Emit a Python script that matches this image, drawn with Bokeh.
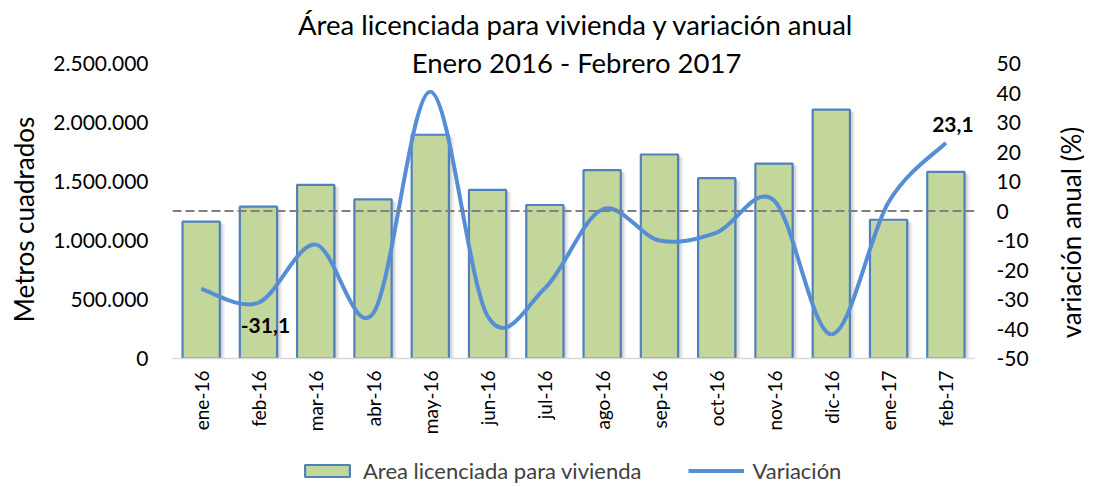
import math
from bokeh.plotting import figure
from bokeh.layouts import column, row
from bokeh.models import (Range1d, LinearAxis, FixedTicker, Span, Label, Legend,
                          LegendItem, ColumnDataSource)
from bokeh.embed import file_html
from bokeh.resources import INLINE
from bokeh.core.properties import value
from bokeh.transform import dodge

# ---------------- data ----------------
months = ["ene-16", "feb-16", "mar-16", "abr-16", "may-16", "jun-16", "jul-16",
          "ago-16", "sep-16", "oct-16", "nov-16", "dic-16", "ene-17", "feb-17"]
area_m2 = [1160000, 1287000, 1471000, 1349000, 1896000, 1429000, 1301000,
           1596000, 1729000, 1528000, 1652000, 2109000, 1176000, 1582000]
variacion = [-26.4, -31.1, -11.4, -34.8, 40.4, -35.6, -26.2,
             0.5, -10.0, -7.3, 3.6, -41.8, 3.0, 23.1]
left_ticks = [0, 500000, 1000000, 1500000, 2000000, 2500000]
left_tick_labels = ["0", "500.000", "1.000.000", "1.500.000", "2.000.000", "2.500.000"]
right_ticks = [-50, -40, -30, -20, -10, 0, 10, 20, 30, 40, 50]
right_tick_labels = ["-50", "-40", "-30", "-20", "-10", "0", "10", "20", "30", "40", "50"]
labeled_months = ["feb-16", "feb-17"]
title_lines = ["Área licenciada para vivienda y variación anual",
               "Enero 2016 - Febrero 2017"]
series_names = ["Area licenciada para vivienda", "Variación"]
axis_titles = ["Metros cuadrados", "variación anual (%)"]

# ---------------- style / layout ----------------
FONT = "Lato"
BAR_FILL = "#c3d69b"
BAR_LINE = "#4f81bd"
LINE_COL = "#558ed5"
TXT = "#000000"
BAR_W = 0.65
FRAME_PX = 358      # frame height (title lives in the top part of the frame)
DATA_PX = 295       # pixels spanned by the axis ranges
LEFT_W, RIGHT_W = 36, 28
MAIN_W = 1020
ROW_H = 439
LEG_H = 45
BOT = ROW_H - FRAME_PX
LEFT_B, RIGHT_B = 136, 82
ext = FRAME_PX / DATA_PX

xs = list(range(len(months)))

p = figure(width=MAIN_W, height=ROW_H,
           min_border_left=LEFT_B, min_border_right=RIGHT_B, min_border_top=0,
           min_border_bottom=BOT, output_backend="svg", toolbar_location=None,
           x_range=Range1d(-0.5, len(months) - 0.5),
           y_range=Range1d(0, left_ticks[-1] * ext))
p.extra_y_ranges = {"right": Range1d(right_ticks[0],
                                     right_ticks[0] + (right_ticks[-1] - right_ticks[0]) * ext)}
p.outline_line_color = None
p.xgrid.visible = False
p.ygrid.visible = False
p.background_fill_color = "white"
p.border_fill_color = "white"

# bars with a soft shadow
src = ColumnDataSource(dict(x=xs, month=months, area=area_m2))
for off, a in [(0.03, 0.10), (0.06, 0.08), (0.09, 0.06)]:
    p.vbar(x=dodge("x", off), top=dodge("area", -off * 250000), bottom=0,
           width=BAR_W, source=src, fill_color="#000000", fill_alpha=a,
           line_color=None)
p.vbar(x="x", top="area", bottom=0, width=BAR_W, source=src,
       fill_color=BAR_FILL, line_color=BAR_LINE, line_width=2.2)

# zero reference line
p.add_layout(Span(location=0, dimension="width", y_range_name="right",
                  line_color="#808080", line_dash="9 4", line_width=2))

# smoothed variation line (Bezier segments through the data points)
n = len(xs)
bz = dict(x0=[], y0=[], x1=[], y1=[], cx0=[], cy0=[], cx1=[], cy1=[])
for i in range(n - 1):
    i0 = max(i - 1, 0)
    i3 = min(i + 2, n - 1)
    bz["x0"].append(xs[i]); bz["y0"].append(variacion[i])
    bz["x1"].append(xs[i + 1]); bz["y1"].append(variacion[i + 1])
    bz["cx0"].append(xs[i] + (xs[i + 1] - xs[i0]) / 6)
    bz["cy0"].append(variacion[i] + (variacion[i + 1] - variacion[i0]) / 6)
    bz["cx1"].append(xs[i + 1] - (xs[i3] - xs[i]) / 6)
    bz["cy1"].append(variacion[i + 1] - (variacion[i3] - variacion[i]) / 6)
bz_src = ColumnDataSource(bz)
p.bezier(x0="x0", y0="y0", x1="x1", y1="y1", cx0="cx0", cy0="cy0",
         cx1="cx1", cy1="cy1", source=bz_src,
         y_range_name="right", line_color=LINE_COL, line_width=4)

# data labels
idx = [months.index(m) for m in labeled_months]
lab = ColumnDataSource(dict(
    x=[xs[i] for i in idx], y=[variacion[i] for i in idx],
    text=[f"{variacion[i]:.1f}".replace(".", ",") for i in idx],
    dy=[23, -18]))
p.text(x="x", y="y", text="text", source=lab, y_range_name="right",
       x_offset=7, y_offset="dy", text_align="center", text_baseline="middle",
       text_font=value(FONT), text_font_style="bold", text_font_size="21px",
       text_color=TXT)

# axes
xa = p.xaxis[0]
xa.ticker = FixedTicker(ticks=xs)
xa.major_label_overrides = {i: m for i, m in zip(xs, months)}
xa.major_label_orientation = math.pi / 2
xa.major_tick_line_color = None
xa.major_tick_out = 0
xa.major_tick_in = 0
xa.minor_tick_line_color = None
xa.axis_line_color = "#d9d9d9"
xa.axis_line_width = 1.5
xa.major_label_standoff = 12
xa.major_label_text_font = FONT
xa.major_label_text_font_size = "19px"
xa.major_label_text_color = TXT

ya = p.yaxis[0]
ya.ticker = FixedTicker(ticks=left_ticks)
ya.major_label_overrides = {t: l for t, l in zip(left_ticks, left_tick_labels)}
ya.axis_line_color = None
ya.major_tick_line_color = None
ya.major_tick_out = 0
ya.major_tick_in = 0
ya.minor_tick_line_color = None
ya.major_label_standoff = 24
ya.major_label_text_font = FONT
ya.major_label_text_font_size = "21px"
ya.major_label_text_color = TXT

ra = LinearAxis(y_range_name="right", ticker=FixedTicker(ticks=right_ticks))
ra.major_label_overrides = {t: l for t, l in zip(right_ticks, right_tick_labels)}
ra.axis_line_color = None
ra.major_tick_line_color = None
ra.major_tick_out = 0
ra.major_tick_in = 0
ra.minor_tick_line_color = None
ra.major_label_standoff = 22
ra.major_label_text_font = FONT
ra.major_label_text_font_size = "21px"
ra.major_label_text_color = TXT
p.add_layout(ra, "right")

# title (two lines, inside the upper part of the frame)
for ty, t in zip([334, 296], title_lines):
    p.add_layout(Label(x=404, y=ty, x_units="screen", y_units="screen", text=t,
                       text_align="center", text_baseline="middle",
                       text_font=FONT, text_font_size="27.5px", text_color=TXT))


def side_fig(w, text, lx, ly):
    f = figure(width=w, height=ROW_H, output_backend="svg",
               toolbar_location=None, x_axis_location=None, y_axis_location=None,
               min_border_left=0, min_border_right=0, min_border_top=0,
               min_border_bottom=BOT, x_range=Range1d(0, 1), y_range=Range1d(0, 1))
    f.outline_line_color = None
    f.grid.visible = False
    f.add_layout(Label(x=lx, y=ly, x_units="screen", y_units="screen",
                       text=text, angle=math.pi / 2, text_align="center",
                       text_baseline="middle", text_font=FONT,
                       text_font_size="26px", text_color=TXT))
    return f


lt = side_fig(LEFT_W, axis_titles[0], 23, 139)
rt = side_fig(RIGHT_W, axis_titles[1], 14, 126)

# legend strip below the chart (hidden swatch renderers share the real data)
lg = figure(width=LEFT_W + MAIN_W + RIGHT_W, height=LEG_H, output_backend="svg",
            toolbar_location=None, x_axis_location=None, y_axis_location=None,
            min_border_left=LEFT_B + LEFT_W, min_border_right=RIGHT_B + RIGHT_W,
            min_border_top=0, min_border_bottom=0,
            x_range=Range1d(-0.5, len(months) - 0.5), y_range=Range1d(0, 1))
lg.outline_line_color = None
lg.grid.visible = False
sw_bar = lg.vbar(x="x", top="area", bottom=0, width=BAR_W, source=src,
                 fill_color=BAR_FILL, line_color=BAR_LINE, line_width=2.2)
sw_line = lg.bezier(x0="x0", y0="y0", x1="x1", y1="y1", cx0="cx0", cy0="cy0",
                    cx1="cx1", cy1="cy1", source=bz_src,
                    line_color=LINE_COL, line_width=4)
sw_bar.visible = False
sw_line.visible = False
legend = Legend(items=[LegendItem(label=series_names[0], renderers=[sw_bar]),
                       LegendItem(label=series_names[1], renderers=[sw_line])],
                orientation="horizontal", location=(127, 0),
                border_line_color=None, background_fill_alpha=0,
                inactive_fill_alpha=0,
                padding=0, margin=0, spacing=47, glyph_width=56,
                glyph_height=15, label_standoff=8, label_height=20,
                label_text_font=FONT, label_text_font_size="22px",
                label_text_color="#404040")
lg.add_layout(legend, "center")

layout = column(row(lt, p, rt, spacing=0), lg, spacing=0)
open("out.html", "w").write(file_html(layout, INLINE))
